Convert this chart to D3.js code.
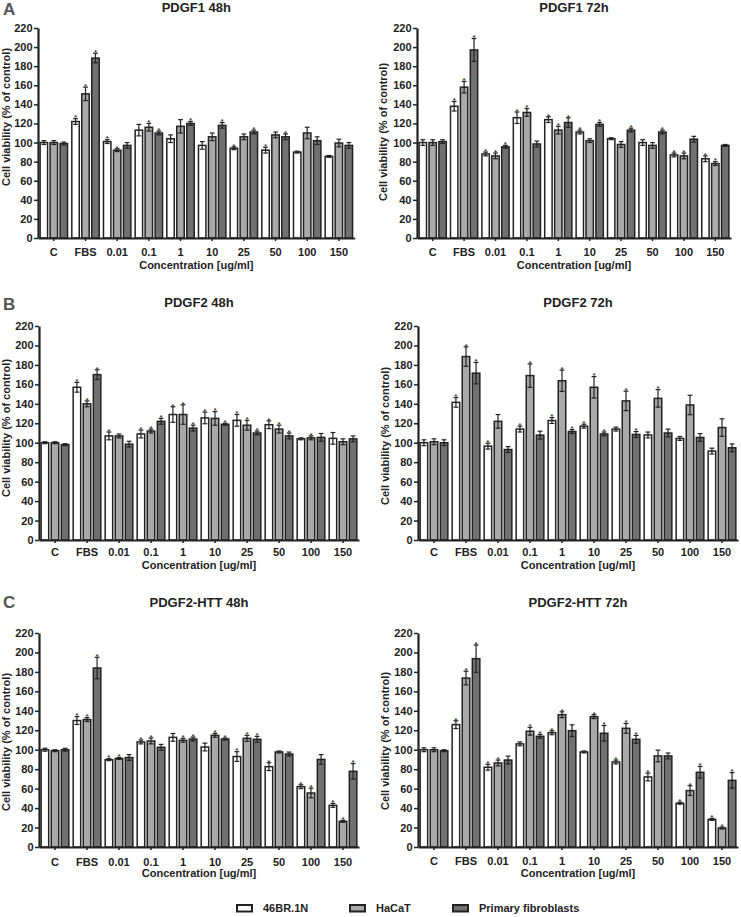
<!DOCTYPE html>
<html><head><meta charset="utf-8">
<script src="https://cdn.jsdelivr.net/npm/d3@7"></script>
<style>
body{margin:0;background:#fff}
svg{display:block}
text{font-family:"Liberation Sans",Arial,Helvetica,sans-serif;font-weight:bold;fill:#222}
</style>
</head><body>
<svg id="chart" width="741" height="917"></svg>
<script>
// ---------- data ----------
const categories = ["C","FBS","0.01","0.1","1","10","25","50","100","150"];
const seriesNames = ["46BR.1N","HaCaT","Primary fibroblasts"];
const yTicks = [0,20,40,60,80,100,120,140,160,180,200,220];
const panelTitles = ["PDGF1 48h","PDGF1 72h","PDGF2 48h","PDGF2 72h","PDGF2-HTT 48h","PDGF2-HTT 72h"];
const panelLetters = ["A","","B","","C",""];

// means [46BR.1N, HaCaT, Primary fibroblasts]
const pdgf1_48h_means = [
  [100,122,101,113,104,97,94,92,90,85.5],
  [100,151,92,116,117,106,106,108,110,99.5],
  [99,188.5,97,110,120,118,111,106,102,97]];
const pdgf1_48h_errors = [
  [2,3,2,6,4,4,1.5,3,1,1],
  [2,7,1.5,4,7,4,3,3,6,4],
  [1.5,5,3,2,2,3,2,3,4,3]];
const pdgf1_48h_stars = [
  [0,1,1,0,0,0,1,1,0,0],
  [0,1,1,1,0,0,0,0,0,0],
  [0,1,0,1,1,1,1,1,0,0]];

const pdgf1_72h_means = [
  [100,138,88,126,124,111,104,100,87,83],
  [100,158,86,131.5,113,102,98,97,86,78],
  [101,197,95.5,98.5,121,119,113,111,103.5,97]];
const pdgf1_72h_errors = [
  [3,5,2,6,3,2,1,3,2,3],
  [3,6,3,4,4,2,3,3,3,2],
  [2,12,1.5,3,5,2,2,2,3,1]];
const pdgf1_72h_stars = [
  [0,1,1,1,1,1,0,0,1,1],
  [0,1,1,1,1,0,0,0,1,1],
  [0,1,1,0,1,1,1,1,0,0]];

const pdgf2_48h_means = [
  [100,157,107,109,129,125.5,123,118.5,104,104.5],
  [100,140,107,112,129,125,118,114,105,101],
  [98,170,98.5,122,115,119,110,107,105.5,104]];
const pdgf2_48h_errors = [
  [1,5,4,4,8,6,6,4,1,6],
  [1,3,2,2,10,7,5,4,2,3],
  [1,5,3,3,3,1,2,3,4,3]];
const pdgf2_48h_stars = [
  [0,1,1,1,1,1,1,1,0,0],
  [0,1,0,1,1,1,1,1,1,0],
  [0,1,0,1,1,1,1,1,0,0]];

const pdgf2_72h_means = [
  [100,141.5,96.5,114,122.8,117,114,108,104.4,91.4],
  [101,188.6,122,169,163.7,157,143,145.6,138.8,115.6],
  [100,171.5,93,107.8,111.5,109,108.5,110,105.4,94.8]];
const pdgf2_72h_errors = [
  [3,5,3,3,3,2,2,3,2,3],
  [3,10,7,12,11,11,10,9,10,9],
  [3,11,3,4,2,2,3,4,4,4]];
const pdgf2_72h_stars = [
  [0,1,1,1,1,1,0,0,0,0],
  [0,1,0,1,1,1,1,1,0,0],
  [0,1,0,0,1,1,1,0,0,0]];

const pdgf2htt_48h_means = [
  [100,130,89.8,108,112.7,102.8,93,82.6,62,42.8],
  [99,131,91,109,109.7,114.8,111.7,97.7,55.5,26.4],
  [100,184,92,102.5,111,111,110.7,95.6,90,77.8]];
const pdgf2htt_48h_errors = [
  [1.5,4,1,2,4,4,5,4,2,2],
  [1,2,1,3,2,2,3,1,5,1],
  [1.5,11,3,3,2,1,3,2,5,8]];
const pdgf2htt_48h_stars = [
  [0,1,1,1,0,0,1,1,1,1],
  [0,1,1,1,1,1,1,0,1,1],
  [0,1,0,0,1,1,1,0,0,1]];

const pdgf2htt_72h_means = [
  [100,125.8,82,106,117.5,97.7,87.4,72,45,28.4],
  [100,173.7,86.4,119,136,134,122,93.6,58,19.5],
  [99,193.6,89.4,113.8,119.6,116.9,110.7,93.6,76.8,68.5]];
const pdgf2htt_72h_errors = [
  [2,4,3,2,2,1,2,4,1,1],
  [2,7,3,4,3,2,5,6,5,1],
  [1,14,4,2,6,8,4,3,6,8]];
const pdgf2htt_72h_stars = [
  [0,1,1,0,1,0,1,1,1,1],
  [0,1,1,1,1,1,1,0,1,1],
  [0,1,0,1,0,1,1,0,1,1]];

// ---------- layout / style ----------
const fills = ["#ffffff","#a9a9a9","#717171"];
const ink = "#222";
const layout = [
  {x0:38, x1:354.7, yb:238, yt:28,  titleY:12,  letterY:15,  catY:256, axTitleY:269, ylx:10, yly:117},
  {x0:417,x1:731,   yb:238, yt:28,  titleY:12,  letterY:15,  catY:256, axTitleY:269, ylx:387,yly:132},
  {x0:39, x1:359,   yb:540, yt:326, titleY:307, letterY:310, catY:556, axTitleY:569, ylx:10, yly:428},
  {x0:418,x1:738,   yb:540, yt:326, titleY:307, letterY:310, catY:556, axTitleY:569, ylx:389,yly:436},
  {x0:39, x1:359,   yb:847, yt:633, titleY:607, letterY:608, catY:866, axTitleY:877, ylx:10, yly:742},
  {x0:418,x1:738,   yb:847, yt:633, titleY:607, letterY:608, catY:865, axTitleY:877, ylx:389,yly:741}
];
const panelData = [
  [pdgf1_48h_means,pdgf1_48h_errors,pdgf1_48h_stars],
  [pdgf1_72h_means,pdgf1_72h_errors,pdgf1_72h_stars],
  [pdgf2_48h_means,pdgf2_48h_errors,pdgf2_48h_stars],
  [pdgf2_72h_means,pdgf2_72h_errors,pdgf2_72h_stars],
  [pdgf2htt_48h_means,pdgf2htt_48h_errors,pdgf2htt_48h_stars],
  [pdgf2htt_72h_means,pdgf2htt_72h_errors,pdgf2htt_72h_stars]
];

const svg = d3.select("#chart");

function drawPanel(i){
  const L = layout[i];
  const [means, errs, stars] = panelData[i];
  const g = svg.append("g");
  const x = d3.scaleBand().domain(categories).range([L.x0, L.x1]).padding(0);
  const y = d3.scaleLinear().domain([0,220]).range([L.yb, L.yt]);
  const step = x.step();
  const bw = step*0.235, off = step*0.315, cap = bw*0.32;

  seriesNames.forEach((s, si) => {
    const rows = categories.map((c, ci) => ({c, v: means[si][ci], e: errs[si][ci], st: stars[si][ci]}));
    const cx = d => x(d.c) + step/2 + (si-1)*off;
    const sg = g.append("g");
    sg.selectAll("rect").data(rows).join("rect")
      .attr("x", d => cx(d) - bw/2).attr("width", bw)
      .attr("y", d => y(d.v)).attr("height", d => y(0) - y(d.v))
      .attr("fill", fills[si]).attr("stroke", ink).attr("stroke-width", 1.5);
    sg.selectAll("line.eb").data(rows).join("line").attr("class","eb")
      .attr("x1", cx).attr("x2", cx)
      .attr("y1", d => y(d.v - d.e)).attr("y2", d => y(d.v + d.e))
      .attr("stroke", ink).attr("stroke-width", 1.2);
    sg.selectAll("line.ct").data(rows).join("line").attr("class","ct")
      .attr("x1", d => cx(d)-cap).attr("x2", d => cx(d)+cap)
      .attr("y1", d => y(d.v + d.e)).attr("y2", d => y(d.v + d.e))
      .attr("stroke", ink).attr("stroke-width", 1.2);
    sg.selectAll("line.cb").data(rows).join("line").attr("class","cb")
      .attr("x1", d => cx(d)-cap).attr("x2", d => cx(d)+cap)
      .attr("y1", d => y(d.v - d.e)).attr("y2", d => y(d.v - d.e))
      .attr("stroke", ink).attr("stroke-width", 1.2);
    sg.selectAll("text.star").data(rows.filter(d => d.st)).join("text").attr("class","star")
      .attr("x", cx).attr("y", d => y(d.v + d.e) + 1.8)
      .attr("text-anchor","middle").style("font-size","8px").style("fill","#444")
      .text("*");
  });

  // y axis
  const ya = g.append("g").attr("transform", `translate(${L.x0},0)`)
    .call(d3.axisLeft(y).tickValues(yTicks).tickSize(4).tickSizeOuter(0).tickPadding(1.5));
  ya.select(".domain").attr("stroke", ink).attr("stroke-width", 2.2);
  ya.selectAll(".tick line").attr("stroke", ink).attr("stroke-width", 1.5);
  ya.selectAll(".tick text").style("font-size","11px").style("font-family",null).attr("fill", ink);

  // x axis
  const xa = g.append("g").attr("transform", `translate(0,${L.yb})`)
    .call(d3.axisBottom(x).tickSize(3).tickSizeOuter(0).tickPadding(0));
  xa.select(".domain").attr("stroke", ink).attr("stroke-width", 2.2);
  xa.selectAll(".tick line").attr("stroke", ink).attr("stroke-width", 1.5);
  xa.selectAll(".tick text").style("font-size","11px").attr("fill", ink)
    .attr("dy", null).attr("y", L.catY - L.yb);

  const mid = (L.x0 + L.x1)/2;
  g.append("text").attr("x", mid).attr("y", L.titleY).attr("text-anchor","middle")
    .style("font-size","13px").text(panelTitles[i]);
  g.append("text").attr("x", mid).attr("y", L.axTitleY).attr("text-anchor","middle")
    .style("font-size","11px").text("Concentration [ug/ml]");
  g.append("text").attr("transform", `translate(${L.ylx},${L.yly}) rotate(-90)`)
    .attr("text-anchor","middle").style("font-size","11px").text("Cell viability (% of control)");
  if (panelLetters[i]) {
    g.append("text").attr("x", 3).attr("y", L.letterY)
      .style("font-size","17px").style("fill","#555").text(panelLetters[i]);
  }
}

for (let i = 0; i < 6; i++) drawPanel(i);

// legend
const legendX = [237, 350, 453];
const lg = svg.append("g");
seriesNames.forEach((s, si) => {
  lg.append("rect").attr("x", legendX[si]).attr("y", 905).attr("width", 15).attr("height", 6.5)
    .attr("fill", fills[si]).attr("stroke", ink).attr("stroke-width", 2);
  lg.append("text").attr("x", legendX[si] + 26).attr("y", 912)
    .style("font-size","11px").text(s);
});
</script>
</body></html>
